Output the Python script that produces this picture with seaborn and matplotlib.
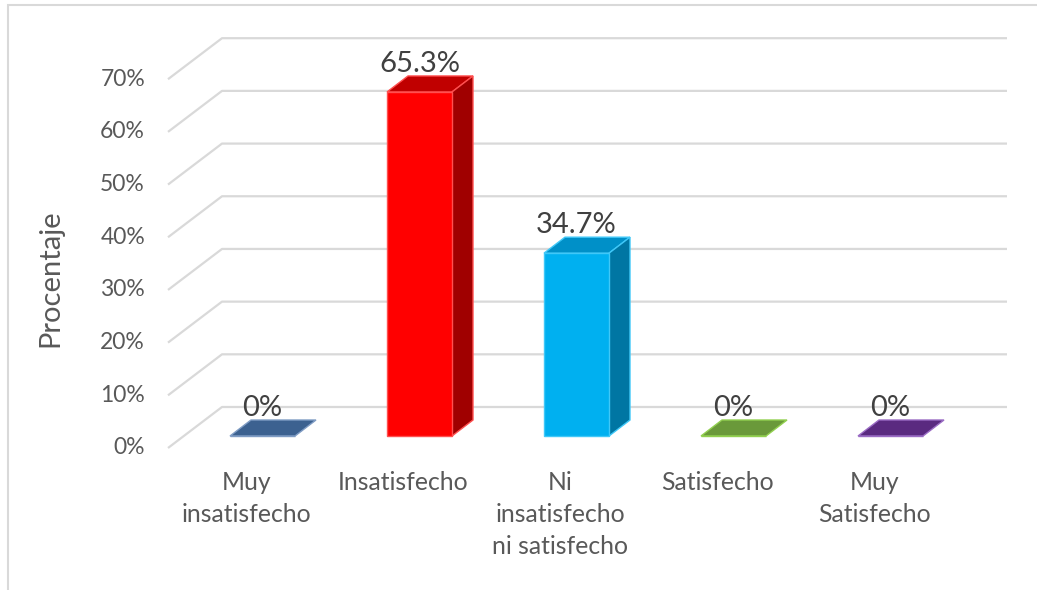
import matplotlib
matplotlib.use("Agg")
import matplotlib.pyplot as plt
from matplotlib.patches import Polygon, Rectangle
import seaborn as sns

# --- data -------------------------------------------------------------
categories = ["Muy\ninsatisfecho", "Insatisfecho", "Ni\ninsatisfecho\nni satisfecho",
              "Satisfecho", "Muy\nSatisfecho"]
values = [0.0, 65.3, 34.7, 0.0, 0.0]
value_labels = ["0%", "65.3%", "34.7%", "0%", "0%"]
tick_values = [0, 10, 20, 30, 40, 50, 60, 70]
tick_labels = ["0%", "10%", "20%", "30%", "40%", "50%", "60%", "70%"]

# face colours: front, top, side, edge
front_colors = ["#3C6190", "#FF0000", "#00B0F0", "#6A993A", "#5A2A80"]
top_colors = ["#3C6190", "#C00000", "#0090C8", "#6A993A", "#5A2A80"]
side_colors = ["#2F4E75", "#A00000", "#0076A3", "#557A2E", "#471F66"]
edge_colors = ["#7F9CC4", "#FF5050", "#40C8F8", "#92D050", "#9A6CC4"]

W, H, DPI = 1037, 590, 100
FONT = ["Lato", "DejaVu Sans"]
GRID = "#D9D9D9"
TXT = "#595959"

sns.set_theme(style="white")
plt.rcParams["font.family"] = FONT

fig = plt.figure(figsize=(W / DPI, H / DPI), dpi=DPI)
ax = fig.add_axes([184 / W, (H - 436) / H, 785 / W, 368.8 / H])
ax.set_xlim(-0.5, 4.5)
ax.set_ylim(0, 70)
ax.axis("off")

# pixel -> data conversion for the oblique depth offsets
p0 = ax.transData.transform((0, 0))
px_x = ax.transData.transform((1, 0))[0] - p0[0]
px_y = ax.transData.transform((0, 1))[1] - p0[1]


def off(dx, dy):
    return dx / px_x, dy / px_y


FRONT = off(-16, -12)   # floor front edge relative to bar fronts
BACK = off(38, 29)      # back wall relative to bar fronts
DEPTH = off(21, 16)     # bar depth
BAR_W = 0.414

# gridlines: floor diagonal + back wall line
for v in tick_values:
    xs = [-0.5 + FRONT[0], -0.5 + BACK[0], 4.5 + BACK[0]]
    ys = [v + FRONT[1], v + BACK[1], v + BACK[1]]
    ax.plot(xs, ys, color=GRID, lw=1.6, zorder=1, clip_on=False,
            solid_capstyle="butt")

# y tick labels, placed on the front floor edge
for v, t in zip(tick_values, tick_labels):
    ax.annotate(t, xy=(-0.5 + FRONT[0], v + FRONT[1]), xytext=(-23, 0),
                textcoords="offset pixels", ha="right", va="center",
                fontsize=16.5, color=TXT, annotation_clip=False)

# front faces
sns.barplot(x=list(range(len(values))), y=values, hue=list(range(len(values))),
            palette=front_colors, width=BAR_W, saturation=1, legend=False,
            ax=ax, zorder=4)
ax.set_xlim(-0.5, 4.5)
ax.set_ylim(0, 70)
ax.axis("off")

for i, bar in enumerate(ax.patches):
    bar.set_edgecolor(edge_colors[i])
    bar.set_linewidth(1.0)
    bar.set_clip_on(False)

# top and side faces
dx, dy = DEPTH
for i, v in enumerate(values):
    x0, x1 = i - BAR_W / 2, i + BAR_W / 2
    top = Polygon([(x0, v), (x1, v), (x1 + dx, v + dy), (x0 + dx, v + dy)],
                  closed=True, facecolor=top_colors[i], edgecolor=edge_colors[i],
                  lw=1.0, zorder=3, clip_on=False)
    ax.add_patch(top)
    if v > 0:
        side = Polygon([(x1, 0), (x1 + dx, dy), (x1 + dx, v + dy), (x1, v)],
                       closed=True, facecolor=side_colors[i],
                       edgecolor=edge_colors[i], lw=1.0, zorder=3, clip_on=False)
        ax.add_patch(side)
    ax.annotate(value_labels[i], xy=(i, v + dy), xytext=(0, 4),
                textcoords="offset pixels", ha="center", va="baseline",
                fontsize=21, color="#404040", annotation_clip=False, zorder=6)

# category labels under the floor
for i, c in enumerate(categories):
    ax.annotate(c, xy=(i + FRONT[0], FRONT[1]), xytext=(0, -23),
                textcoords="offset pixels", ha="center", va="top",
                fontsize=17.8, color=TXT, linespacing=1.47,
                annotation_clip=False)

fig.text(50 / W, 1 - 278 / H, "Procentaje", rotation=90, ha="center",
         va="center", fontsize=21, color=TXT)

# chart border
fig.add_artist(Rectangle((8 / W, -0.2), 1.2, 1.2 - 5 / H, transform=fig.transFigure,
                         fill=False, edgecolor=GRID, lw=1.5))

fig.savefig("out.png", dpi=DPI, facecolor="white")
